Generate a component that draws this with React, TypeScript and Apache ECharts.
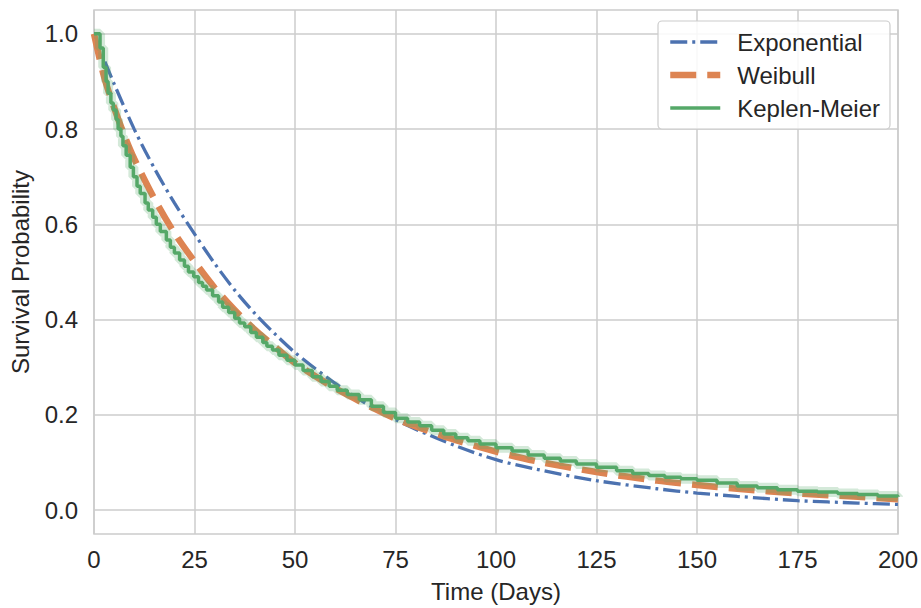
import React, { useEffect, useRef } from "react";
import * as echarts from "echarts";

// ---- data ----
const expTimes = [0, 2.5, 5, 10, 15, 20, 25, 30, 35, 40, 45, 50, 60, 70, 75, 80, 90, 100, 110, 125, 140, 150, 160, 175, 190, 200];
const expValues = [1.0, 0.946, 0.895, 0.80, 0.718, 0.645, 0.58, 0.518, 0.462, 0.413, 0.37, 0.331, 0.266, 0.212, 0.19, 0.17, 0.135, 0.106, 0.086, 0.062, 0.045, 0.036, 0.029, 0.02, 0.015, 0.012];

const weiTimes = [0, 2.5, 5, 7.5, 10, 15, 20, 25, 30, 35, 40, 45, 50, 60, 70, 75, 80, 90, 100, 110, 125, 140, 150, 160, 175, 190, 200];
const weiValues = [1.0, 0.91, 0.845, 0.788, 0.738, 0.654, 0.582, 0.522, 0.467, 0.42, 0.379, 0.343, 0.309, 0.256, 0.212, 0.192, 0.176, 0.147, 0.123, 0.103, 0.08, 0.062, 0.053, 0.045, 0.035, 0.028, 0.023];

const kmTimes = [0, 1.5, 2.3, 3, 3.5, 4.2, 4.8, 5.5, 6, 6.7, 7.2, 8, 9, 9.8, 10.7, 11.5, 12.7, 13.5, 14.6, 15.5, 16.5, 18, 19, 20, 21.3, 22.5, 23.5, 24.8, 26, 27, 28, 29.5, 31, 32, 33.5, 35, 36.2, 37.5, 39, 40.4, 42, 43, 44.4, 46, 48, 50, 52, 54.3, 56.5, 58.5, 60.5, 63, 66, 69, 72, 75, 78, 81, 84, 87, 90, 93, 96, 100, 104, 108, 112, 116, 120, 125, 130, 134, 138, 142, 146, 150, 155, 160, 165, 170, 175, 180, 185, 190, 195, 200];
const kmValues = [1.0, 0.97, 0.93, 0.9, 0.875, 0.855, 0.84, 0.82, 0.8, 0.785, 0.765, 0.745, 0.72, 0.7, 0.68, 0.665, 0.645, 0.63, 0.615, 0.6, 0.585, 0.567, 0.552, 0.54, 0.525, 0.512, 0.5, 0.49, 0.478, 0.47, 0.462, 0.45, 0.437, 0.426, 0.415, 0.403, 0.393, 0.385, 0.373, 0.363, 0.352, 0.344, 0.336, 0.325, 0.315, 0.305, 0.293, 0.28, 0.27, 0.26, 0.252, 0.243, 0.232, 0.218, 0.205, 0.193, 0.185, 0.177, 0.168, 0.16, 0.152, 0.146, 0.139, 0.131, 0.124, 0.116, 0.109, 0.103, 0.097, 0.09, 0.083, 0.077, 0.073, 0.069, 0.066, 0.063, 0.057, 0.051, 0.047, 0.043, 0.04, 0.038, 0.035, 0.033, 0.03, 0.028];

const xTicks = [0, 25, 50, 75, 100, 125, 150, 175, 200];
const yTicks = [0, 0.2, 0.4, 0.6, 0.8, 1.0];
const seriesNames = ["Exponential", "Weibull", "Keplen-Meier"];

const pair = (t: number[], v: number[]) => t.map((x, i) => [x, v[i]]);

const FONT = "'Liberation Sans', Arial, sans-serif";
const TXT = "#262626";
const BLUE = "#4C72B0";
const ORANGE = "#DD8452";
const GREEN = "#55A868";

const expStyle = { color: BLUE, width: 3.3, type: [17, 5, 3, 5] };
const weiStyle = { color: ORANGE, width: 6.5, type: [26, 11] };
const kmStyle = { color: GREEN, width: 3.5, type: "solid" };

export default function App() {
  const ref = useRef<HTMLDivElement>(null);
  useEffect(() => {
    if (!ref.current) return;
    const chart = echarts.init(ref.current, undefined, { renderer: "svg" });
    const kmData = pair(kmTimes, kmValues);
    const legendStyles = [expStyle, weiStyle, kmStyle];
    chart.setOption({
      animation: false,
      backgroundColor: "#ffffff",
      textStyle: { fontFamily: FONT },
      grid: {
        left: 94, right: 21, top: 10, bottom: 74,
        show: true, borderColor: "#cccccc", borderWidth: 1.5, backgroundColor: "#ffffff",
      },
      legend: {
        data: seriesNames.map((n, i) => ({ name: n, lineStyle: legendStyles[i] })),
        orient: "vertical",
        left: 658, top: 21,
        padding: [9, 10, 9, 9],
        itemWidth: 50, itemHeight: 14, itemGap: 9,
        itemStyle: { opacity: 0 },
        backgroundColor: "rgba(255,255,255,0.85)",
        borderColor: "#cccccc", borderWidth: 1.2, borderRadius: 4,
        textStyle: { fontSize: 24, color: TXT, fontFamily: FONT, padding: [0, 0, 0, 12] },
      },
      xAxis: {
        type: "value", min: 0, max: 200, interval: 25,
        name: "Time (Days)", nameLocation: "middle", nameGap: 45,
        nameTextStyle: { fontSize: 24, color: TXT, fontFamily: FONT },
        axisLine: { show: false }, axisTick: { show: false },
        axisLabel: {
          fontSize: 24, color: TXT, margin: 13, fontFamily: FONT,
          customValues: xTicks,
        },
        splitLine: { show: true, lineStyle: { color: "#cccccc", width: 1.5 } },
      },
      yAxis: {
        type: "value", min: -0.05, max: 1.05,
        name: "Survival Probability", nameLocation: "middle", nameGap: 62,
        nameTextStyle: { fontSize: 24, color: TXT, fontFamily: FONT },
        axisLine: { show: false },
        axisTick: { show: false, customValues: yTicks },
        axisLabel: {
          fontSize: 24, color: TXT, margin: 16, fontFamily: FONT,
          customValues: yTicks,
          formatter: (v: number) => v.toFixed(1),
        },
        splitLine: { show: true, lineStyle: { color: "#cccccc", width: 1.5 } },
      },
      series: [
        {
          name: "Exponential", type: "line", data: pair(expTimes, expValues),
          symbol: "none", smooth: 0.3, z: 3, color: BLUE,
          lineStyle: expStyle,
        },
        {
          name: "Weibull", type: "line", data: pair(weiTimes, weiValues),
          symbol: "none", smooth: 0.3, z: 4, color: ORANGE,
          lineStyle: weiStyle,
        },
        {
          name: "KM band", type: "line", data: kmData, step: "end",
          symbol: "none", silent: true, z: 5,
          lineStyle: { color: "rgba(85,168,104,0.25)", width: 10 },
        },
        {
          name: "Keplen-Meier", type: "line", data: kmData, step: "end",
          symbol: "none", z: 6, color: GREEN,
          lineStyle: kmStyle,
        },
      ],
    });
    return () => chart.dispose();
  }, []);
  return <div ref={ref} style={{ width: 921, height: 608, position: "absolute", left: 0, top: 0 }} />;
}
